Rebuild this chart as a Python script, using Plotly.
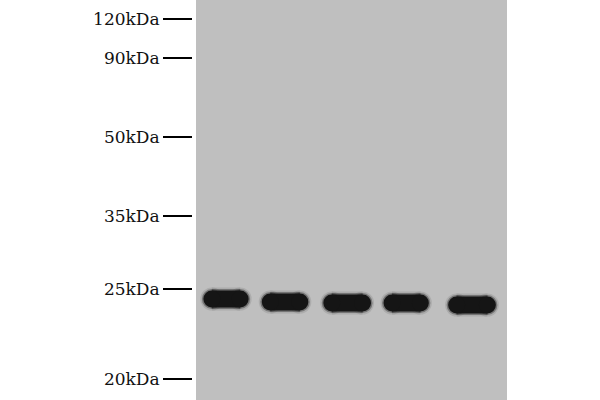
import plotly.graph_objs as go

# marker ladder (migration position in px from top of gel)
marker_labels = ["120kDa", "90kDa", "50kDa", "35kDa", "25kDa", "20kDa"]
marker_pos = [19, 58, 137, 216, 289, 379]

# bands: lane position, migration position, half length (lane units)
band_lane = [1.0, 1.96, 2.97, 3.93, 5.0]
band_pos = [299, 302, 303, 303, 305]
band_half = [0.23, 0.24, 0.25, 0.23, 0.25]

gel_color = '#bfbfbf'
band_color = '#151515'

fig = go.Figure()

# (width, colour) layers from outer blur to core
layers = [
    (23, 'rgba(90,90,90,0.18)'),
    (20, 'rgba(50,50,50,0.45)'),
    (17, band_color),
]

for lane, pos, half in zip(band_lane, band_pos, band_half):
    for w, c in layers:
        fig.add_trace(go.Scatter(
            x=[lane - half, lane + half],
            y=[pos, pos],
            mode='lines+markers',
            line=dict(color=c, width=w),
            marker=dict(size=w, color=c, line=dict(width=0)),
            hoverinfo='skip',
            showlegend=False
        ))

# invisible trace so the ladder axis is drawn
fig.add_trace(go.Scatter(x=[None], y=[None], yaxis='y2', showlegend=False))

fig.update_layout(
    width=600,
    height=400,
    margin=dict(l=0, r=0, t=0, b=0),
    paper_bgcolor='white',
    plot_bgcolor=gel_color,
    xaxis=dict(
        domain=[196 / 600, 507 / 600],
        range=[0.512, 5.569],
        showgrid=False, zeroline=False, showticklabels=False,
        ticks='', showline=False
    ),
    yaxis=dict(
        range=[400, 0],
        showgrid=False, zeroline=False, showticklabels=False,
        ticks='', showline=False
    ),
    yaxis2=dict(
        range=[400, 0],
        overlaying='y',
        anchor='free',
        position=192 / 600,
        side='left',
        tickmode='array',
        tickvals=marker_pos,
        ticktext=marker_labels,
        ticks='outside',
        ticklen=29,
        tickwidth=1.5,
        tickcolor='black',
        showgrid=False, zeroline=False, showline=False,
        tickfont=dict(family='DejaVu Serif', size=17, color='#111111')
    ),
    font=dict(family='DejaVu Serif')
)

# drop the default page margin so the figure sits at the window corner
fig.write_html("out.html", config={'displayModeBar': False},
               post_script="document.body.style.margin='0px';")
